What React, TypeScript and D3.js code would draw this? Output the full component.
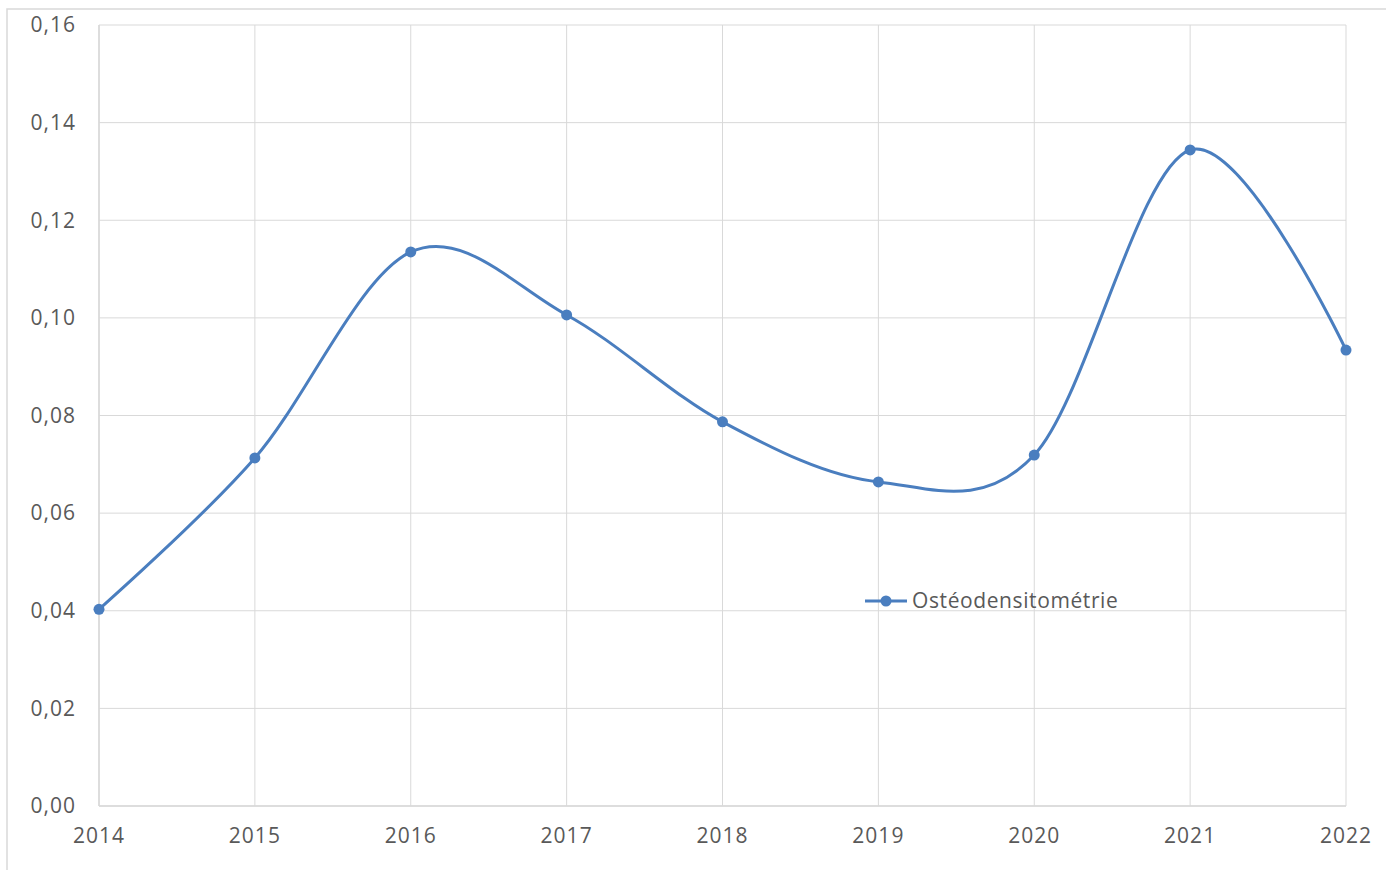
import React from "react";
import * as d3 from "d3";

const years = [2014, 2015, 2016, 2017, 2018, 2019, 2020, 2021, 2022];
const values = [0.0403, 0.0713, 0.1135, 0.1006, 0.0787, 0.0664, 0.0719, 0.1344, 0.0934];
const yTicks = [0, 0.02, 0.04, 0.06, 0.08, 0.1, 0.12, 0.14, 0.16];
const seriesName = "Ostéodensitométrie";

const W = 1386;
const H = 870;
const M = { left: 99, right: 1346, top: 25, bottom: 806 };
const COLOR = "#4a7ebf";
const GRID = "#d9d9d9";
const TEXT = "#595959";
const FONT = "'Open Sans', sans-serif";

export default function App() {
  const x = d3.scalePoint<number>().domain(years).range([M.left, M.right]);
  const y = d3.scaleLinear().domain([0, 0.16]).range([M.bottom, M.top]);
  const line = d3
    .line<number>()
    .x((_, i) => x(years[i]) as number)
    .y((d) => y(d))
    .curve(d3.curveCardinal.tension(0));
  const fmt = (v: number) => v.toFixed(2).replace(".", ",");

  return (
    <svg
      width={W}
      height={H}
      style={{ position: "absolute", left: 0, top: 0, background: "#fff" }}
    >
      <rect x={7} y={9} width={W + 10} height={H + 10} fill="#fff" stroke={GRID} strokeWidth={1.5} />
      {yTicks.map((t) => (
        <line key={"h" + t} x1={M.left} x2={M.right} y1={y(t)} y2={y(t)} stroke={GRID} strokeWidth={1} />
      ))}
      {years.map((yr) => (
        <line key={"v" + yr} x1={x(yr)} x2={x(yr)} y1={M.top} y2={M.bottom} stroke={GRID} strokeWidth={1} />
      ))}
      <line x1={M.left} x2={M.left} y1={M.top} y2={M.bottom} stroke={GRID} strokeWidth={1.5} />
      <line x1={M.left} x2={M.right} y1={M.bottom} y2={M.bottom} stroke={GRID} strokeWidth={1.5} />
      {yTicks.map((t) => (
        <text
          key={"yl" + t}
          x={76}
          y={y(t)}
          dy="0.35em"
          textAnchor="end"
          fontFamily={FONT}
          fontSize={21}
          letterSpacing={1}
          fill={TEXT}
        >
          {fmt(t)}
        </text>
      ))}
      {years.map((yr) => (
        <text
          key={"xl" + yr}
          x={x(yr)}
          y={843}
          textAnchor="middle"
          fontFamily={FONT}
          fontSize={21}
          letterSpacing={1}
          fill={TEXT}
        >
          {yr}
        </text>
      ))}
      <path d={line(values) || ""} fill="none" stroke={COLOR} strokeWidth={3} />
      {values.map((v, i) => (
        <circle key={"c" + i} cx={x(years[i])} cy={y(v)} r={5.5} fill={COLOR} />
      ))}
      <g>
        <line x1={865} x2={907} y1={601} y2={601} stroke={COLOR} strokeWidth={3} />
        <circle cx={886} cy={601} r={5.5} fill={COLOR} />
        <text x={912} y={601} dy="0.35em" fontFamily={FONT} fontSize={21} letterSpacing={0.6} fill={TEXT}>
          {seriesName}
        </text>
      </g>
    </svg>
  );
}
